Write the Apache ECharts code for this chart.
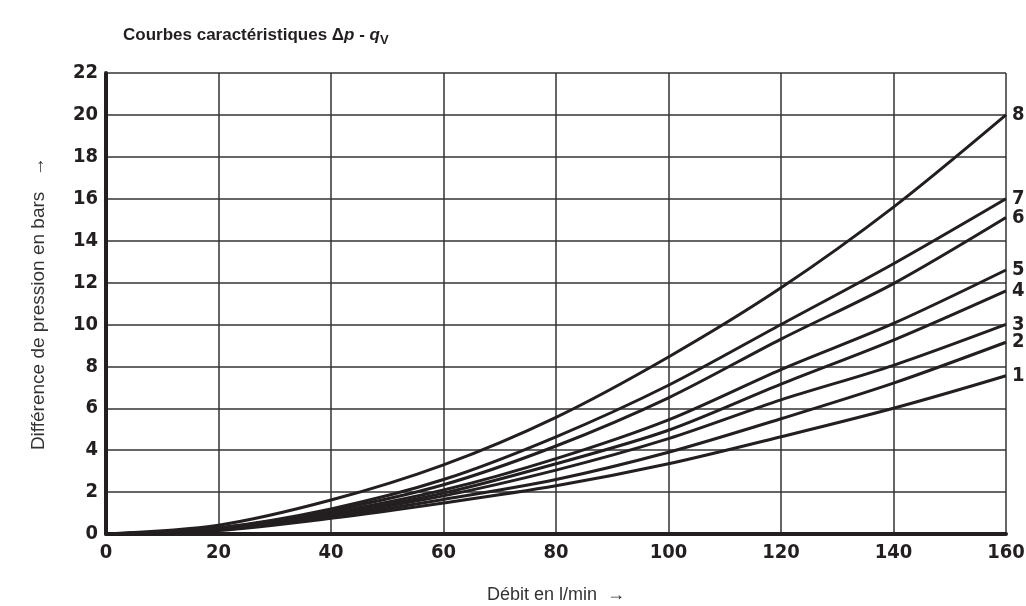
<!DOCTYPE html>
<html>
<head>
<meta charset="utf-8">
<script src="https://cdn.jsdelivr.net/npm/echarts@6/dist/echarts.min.js"></script>
<style>
  html, body { margin: 0; padding: 0; background: #fff; }
  #chart { width: 1026px; height: 606px; }
</style>
</head>
<body>
<div id="chart"></div>
<script>
// débit (l/min)
var flow = [0, 20, 40, 60, 80, 100, 120, 140, 160];
// différence de pression (bar), courbes 1..8
var curve1 = [0, 0.17, 0.75, 1.48, 2.3, 3.35, 4.64, 6.0, 7.55];
var curve2 = [0, 0.19, 0.82, 1.65, 2.6, 3.9, 5.5, 7.2, 9.15];
var curve3 = [0, 0.21, 0.9, 1.82, 3.05, 4.55, 6.4, 8.05, 10.0];
var curve4 = [0, 0.23, 0.95, 1.95, 3.35, 4.95, 7.15, 9.25, 11.6];
var curve5 = [0, 0.25, 1.02, 2.1, 3.6, 5.45, 7.85, 10.05, 12.6];
var curve6 = [0, 0.28, 1.12, 2.35, 4.2, 6.5, 9.3, 11.95, 15.1];
var curve7 = [0, 0.3, 1.2, 2.6, 4.64, 7.1, 10.0, 12.9, 16.0];
var curve8 = [0, 0.42, 1.62, 3.3, 5.57, 8.45, 11.75, 15.6, 20.0];
var curveNames = ['1', '2', '3', '4', '5', '6', '7', '8'];
var curves = [curve1, curve2, curve3, curve4, curve5, curve6, curve7, curve8];

var condFont = '"DejaVu Sans Condensed", "Liberation Sans Narrow", "DejaVu Sans", sans-serif';
var helv = '"Liberation Sans", Arial, sans-serif';
var ink = '#231f20';

var chart = echarts.init(document.getElementById('chart'));

var series = curves.map(function (vals, i) {
  return {
    name: curveNames[i],
    type: 'line',
    smooth: 0.3,
    symbol: 'none',
    data: flow.map(function (q, k) { return [q, vals[k]]; }),
    lineStyle: { color: ink, width: 3 },
    endLabel: {
      show: true,
      formatter: '{a}',
      color: ink,
      fontFamily: condFont,
      fontWeight: 'bold',
      fontSize: 20,
      distance: 6
    },
    animation: false
  };
});

chart.setOption({
  animation: false,
  title: {
    left: 118,
    top: 19,
    text: '{b|Courbes caractéristiques }{n|Δ}{i|p}{b| - }{i|q}{s|V}',
    textStyle: {
      rich: {
        b: { fontFamily: helv, fontWeight: 'bold', fontSize: 17, color: ink },
        n: { fontFamily: helv, fontSize: 17, color: ink },
        i: { fontFamily: helv, fontStyle: 'italic', fontSize: 17, color: ink },
        s: { fontFamily: helv, fontWeight: 'bold', fontSize: 13, color: ink, verticalAlign: 'bottom', padding: [10, 0, 0, 0] }
      }
    }
  },
  grid: {
    left: 106,
    right: 20,
    top: 73,
    bottom: 72,
    containLabel: false,
    outerBoundsMode: 'none'
  },
  xAxis: {
    type: 'value',
    min: 0,
    max: 160,
    interval: 20,
    name: 'Débit en l/min  →',
    nameLocation: 'middle',
    nameGap: 52,
    nameTextStyle: { fontFamily: helv, fontSize: 18, color: '#333' },
    axisLine: { show: true, onZero: false, lineStyle: { color: ink, width: 4 } },
    axisTick: { show: false },
    axisLabel: { color: ink, fontFamily: condFont, fontWeight: 'bold', fontSize: 20, margin: 9 },
    splitLine: { show: true, lineStyle: { color: '#333', width: 1.5 } }
  },
  yAxis: {
    type: 'value',
    min: 0,
    max: 22,
    interval: 2,
    name: 'Différence de pression en bars   →',
    nameLocation: 'middle',
    nameGap: 58,
    nameRotate: 90,
    nameTextStyle: { fontFamily: helv, fontSize: 19, color: '#333' },
    axisLine: { show: true, onZero: false, lineStyle: { color: ink, width: 4 } },
    axisTick: { show: false },
    axisLabel: { color: ink, fontFamily: condFont, fontWeight: 'bold', fontSize: 20, margin: 8 },
    splitLine: { show: true, lineStyle: { color: '#333', width: 1.5 } }
  },
  series: series
});
</script>
</body>
</html>
